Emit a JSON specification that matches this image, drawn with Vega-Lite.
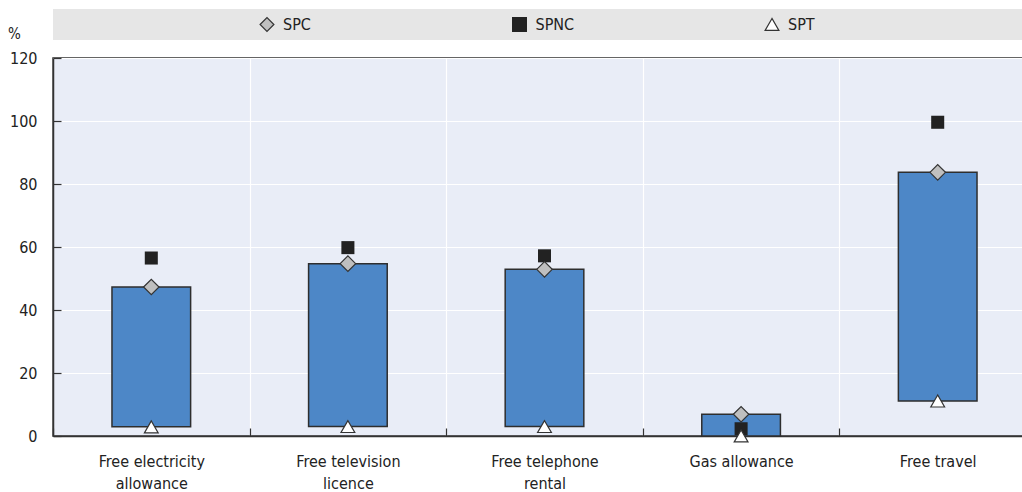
{
  "$schema": "https://vega.github.io/schema/vega-lite/v6.json",
  "padding": {"left": 6, "top": 9, "right": 0, "bottom": 0},
  "background": "white",
  "config": {
    "font": "DejaVu Sans Condensed",
    "view": {"stroke": null},
    "axis": {"labelFont": "DejaVu Sans Condensed", "titleFont": "DejaVu Sans Condensed", "labelColor": "#222", "titleColor": "#222"},
    "text": {"font": "DejaVu Sans Condensed"}
  },
  "spacing": 18,
  "bounds": "flush",
  "vconcat": [
    {
      "width": 983,
      "height": 31,
      "view": {"fill": "#e6e6e6", "stroke": null},
      "data": {"values": [{"series": "SPC"}, {"series": "SPNC"}, {"series": "SPT"}]},
      "encoding": {
        "x": {"field": "series", "type": "nominal", "sort": null, "axis": null, "scale": {"type": "point", "padding": 0, "range": [214, 719]}}
      },
      "layer": [
        {
          "mark": {"type": "point", "filled": true, "strokeWidth": 1.2, "opacity": 1},
          "encoding": {
            "shape": {"field": "series", "type": "nominal", "legend": null, "scale": {"domain": ["SPC", "SPNC", "SPT"], "range": ["diamond", "square", "triangle-up"]}},
            "fill": {"field": "series", "type": "nominal", "legend": null, "scale": {"domain": ["SPC", "SPNC", "SPT"], "range": ["#bfbfbf", "#222222", "#ffffff"]}},
            "stroke": {"field": "series", "type": "nominal", "legend": null, "scale": {"domain": ["SPC", "SPNC", "SPT"], "range": ["#333333", "#222222", "#333333"]}},
            "size": {"value": 190},
            "y": {"value": 15.5}
          }
        },
        {
          "mark": {"type": "text", "align": "left", "baseline": "middle", "dx": 16, "fontSize": 16, "color": "#222"},
          "encoding": {
            "text": {"field": "series"},
            "y": {"value": 15.5}
          }
        }
      ]
    },
    {
      "width": 983,
      "height": 378,
      "view": {"fill": "#e9edf7", "stroke": "#333333", "strokeWidth": 1.5},
      "data": {"values": [
        {"category": "Free electricity allowance", "spc": 47.3, "spnc": 56.5, "spt": 2.9},
        {"category": "Free television licence", "spc": 54.7, "spnc": 59.8, "spt": 3.0},
        {"category": "Free telephone rental", "spc": 52.9, "spnc": 57.2, "spt": 3.0},
        {"category": "Gas allowance", "spc": 6.9, "spnc": 2.3, "spt": 0.0},
        {"category": "Free travel", "spc": 83.7, "spnc": 99.6, "spt": 11.1}
      ]},
      "encoding": {
        "x": {
          "field": "category", "type": "nominal", "sort": null, "title": null,
          "scale": {"paddingInner": 0, "paddingOuter": 0},
          "axis": {
            "labelAngle": 0, "labelFontSize": 16, "labelLineHeight": 22, "labelPadding": 25,
            "tickBand": "extent", "tickSize": -8, "tickColor": "#333", "tickWidth": 1.2,
            "grid": true, "gridColor": "#ffffff", "gridWidth": 1.2,
            "domain": true, "domainColor": "#333", "domainWidth": 1.5,
            "labelExpr": "datum.value == 'Free electricity allowance' ? ['Free electricity', 'allowance'] : datum.value == 'Free television licence' ? ['Free television', 'licence'] : datum.value == 'Free telephone rental' ? ['Free telephone', 'rental'] : datum.value",
            "labelBaseline": "top"
          }
        }
      },
      "layer": [
        {
          "mark": {"type": "bar", "width": {"band": 0.4}, "fill": "#4d87c7", "stroke": "#2e2e2e", "strokeWidth": 1.5},
          "encoding": {
            "y": {
              "field": "spt", "type": "quantitative",
              "scale": {"domain": [0, 120], "nice": false},
              "axis": {
                "values": [0, 20, 40, 60, 80, 100, 120],
                "labelFontSize": 16, "labelPadding": 24,
                "tickSize": -8, "tickColor": "#333", "tickWidth": 1.2,
                "grid": true, "gridColor": "#ffffff", "gridWidth": 1.2,
                "domain": true, "domainColor": "#333", "domainWidth": 1.5,
                "title": "%", "titleAngle": 0, "titleFontSize": 15, "titleFontWeight": "normal",
                "titleX": -39, "titleY": -20, "titleAlign": "center", "titleBaseline": "alphabetic"
              }
            },
            "y2": {"field": "spc"}
          }
        },
        {
          "mark": {"type": "point", "shape": "square", "filled": true, "fill": "#222222", "stroke": null, "size": 170, "opacity": 1},
          "encoding": {"y": {"field": "spnc", "type": "quantitative"}}
        },
        {
          "mark": {"type": "point", "shape": "diamond", "filled": true, "fill": "#bfbfbf", "stroke": "#333333", "strokeWidth": 1.2, "size": 240, "opacity": 1},
          "encoding": {"y": {"field": "spc", "type": "quantitative"}}
        },
        {
          "mark": {"type": "point", "shape": "triangle-up", "filled": true, "fill": "#ffffff", "stroke": "#333333", "strokeWidth": 1.2, "size": 190, "opacity": 1},
          "encoding": {"y": {"field": "spt", "type": "quantitative"}}
        }
      ]
    }
  ]
}
